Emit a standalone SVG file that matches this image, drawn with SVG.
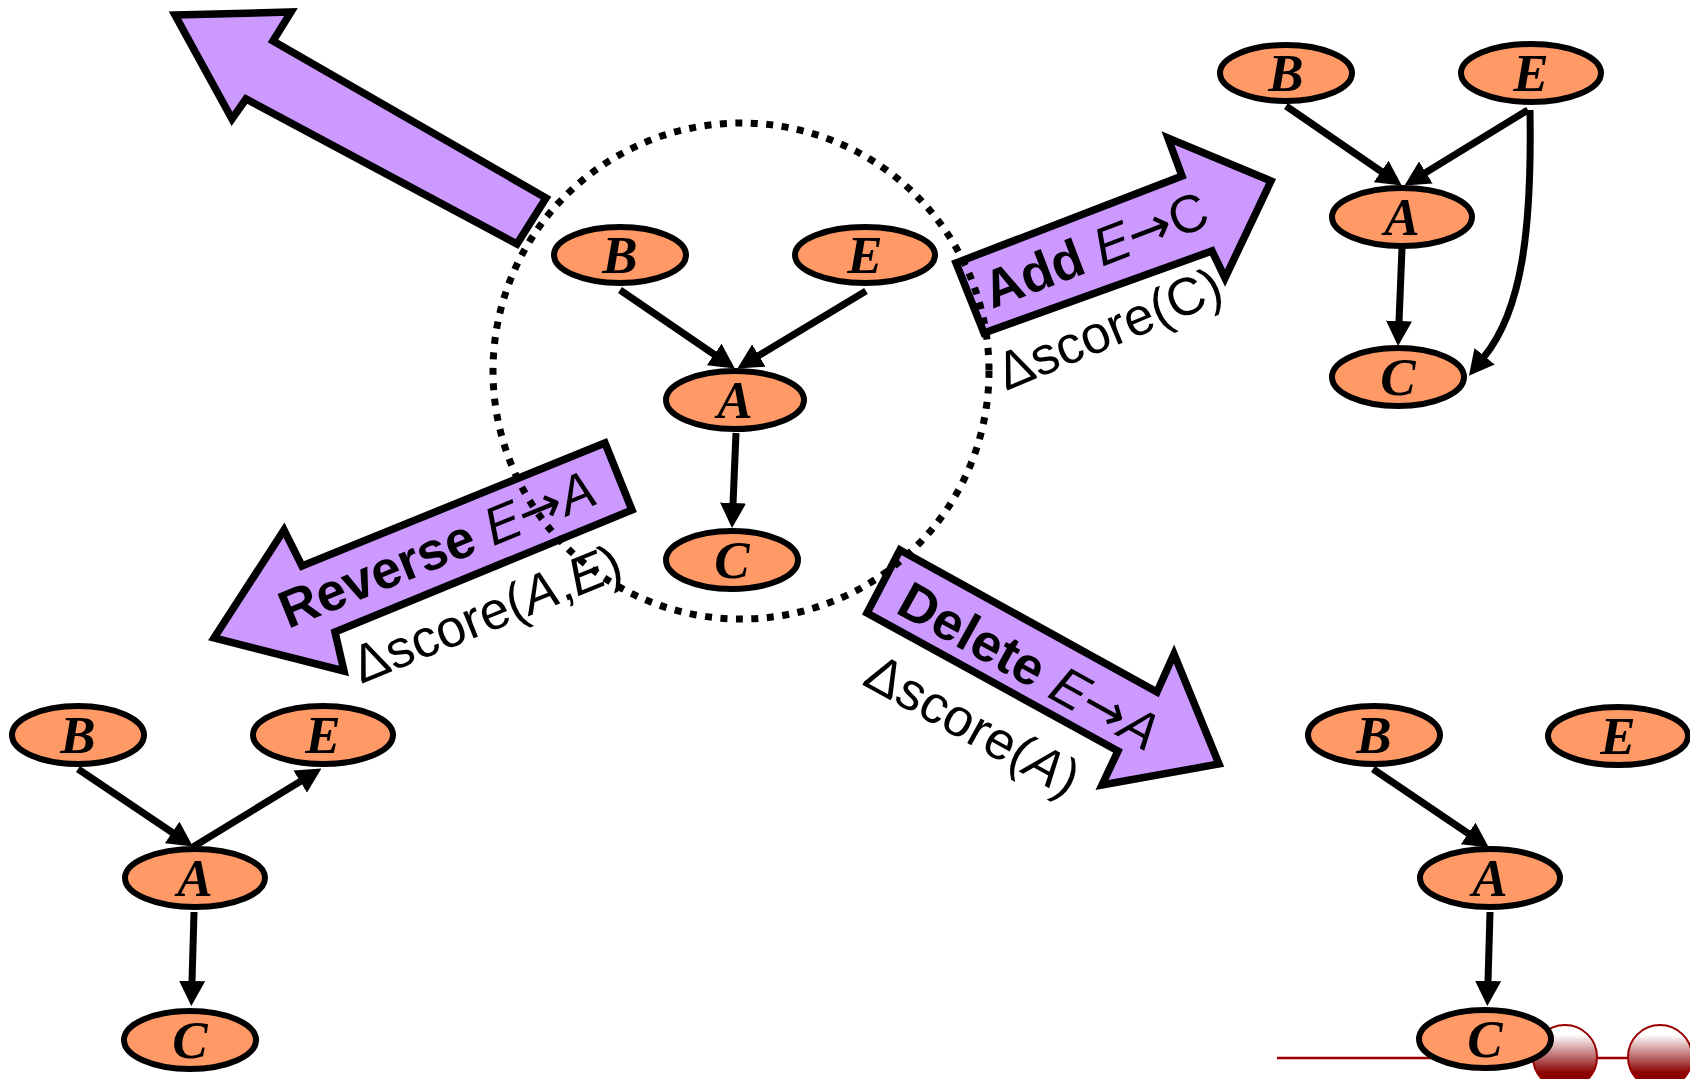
<svg xmlns="http://www.w3.org/2000/svg" width="1690" height="1079" viewBox="0 0 1690 1079">
<style>
.node ellipse{fill:#FF9966;stroke:#000;stroke-width:6}
.node text{font-family:"Liberation Serif",serif;font-weight:bold;font-style:italic;font-size:53px;text-anchor:middle;fill:#000}
.edge{stroke:#000;stroke-width:7;fill:none;marker-end:url(#ah)}
.big{fill:#CC99FF;stroke:#000;stroke-width:7.5;stroke-linejoin:miter}
.lbl{font-family:"Liberation Sans",Arial,sans-serif;font-size:53px;fill:#000}
.b{font-weight:bold}
.i{font-style:italic}
.arr{font-family:"DejaVu Sans",sans-serif;font-weight:normal;font-style:normal}
</style>
<defs>
<marker id="ah" markerUnits="userSpaceOnUse" markerWidth="25" markerHeight="26" viewBox="0 0 25 26" refX="1" refY="13" orient="auto">
<path d="M0,0 L25,13 L0,26 z" fill="#000"/>
</marker>
<linearGradient id="ball" x1="0" y1="0" x2="0" y2="1">
<stop offset="0.15" stop-color="#ffffff"/>
<stop offset="0.75" stop-color="#8B0000"/>
</linearGradient>
</defs>
<rect width="1690" height="1079" fill="#fff"/>

<g id="decor">
<line x1="1277" y1="1058" x2="1690" y2="1058" stroke="#990000" stroke-width="2.5"/>
<circle cx="1565" cy="1057" r="32" fill="url(#ball)" stroke="#990000" stroke-width="2"/>
<circle cx="1660" cy="1057" r="32" fill="url(#ball)" stroke="#990000" stroke-width="2"/>
</g>

<g id="op-arrows">
<polygon id="arrow-topleft" class="big" points="175,15 291,12 273,41 546,198 517,244 246,99 232,119"/>
<polygon id="arrow-add" class="big" points="956,263 1182,176 1168,138 1271,181 1225,278 1212,251 984,333"/>
<polygon id="arrow-reverse" class="big" points="214,638 284,530 302,566 605,443 632,510 335,632 344,671"/>
<polygon id="arrow-delete" class="big" points="900,550 1157,692 1174,654 1219,764 1102,785 1118,751 867,613"/>
</g>

<g id="op-labels">
<text class="lbl" transform="translate(992,309) rotate(-21)"><tspan class="b">Add</tspan> <tspan class="i">E</tspan><tspan class="arr">→</tspan>C</text>
<text class="lbl" transform="translate(1006,391) rotate(-22.5)">Δscore(C)</text>
<text class="lbl" transform="translate(288,629) rotate(-22)"><tspan class="b">Reverse</tspan> <tspan class="i">E</tspan><tspan class="arr">→</tspan><tspan class="i">A</tspan></text>
<text class="lbl" transform="translate(361,684) rotate(-22)">Δscore(<tspan class="i">A</tspan>,<tspan class="i">E</tspan>)</text>
<text class="lbl" transform="translate(894,612) rotate(29)"><tspan class="b">Delete</tspan> <tspan class="i">E</tspan><tspan class="arr">→</tspan><tspan class="i">A</tspan></text>
<text class="lbl" transform="translate(861,684) rotate(29)">Δscore(<tspan class="i">A</tspan>)</text>
</g>

<g id="connectors">
<!-- center graph -->
<line class="edge" x1="620" y1="290" x2="715" y2="355"/>
<line class="edge" x1="866" y1="291" x2="758" y2="356"/>
<line class="edge" x1="736" y1="433" x2="733" y2="504"/>
<!-- top right -->
<line class="edge" x1="1286" y1="106" x2="1382" y2="172"/>
<line class="edge" x1="1528" y1="110" x2="1425" y2="173"/>
<line class="edge" x1="1402" y1="248" x2="1399" y2="322"/>
<path class="edge" d="M1530,110 C1532,230 1522,310 1484,357"/>
<!-- bottom left -->
<line class="edge" x1="78" y1="769" x2="173" y2="833"/>
<line class="edge" x1="193" y1="847" x2="301" y2="781"/>
<line class="edge" x1="194" y1="912" x2="192" y2="982"/>
<!-- bottom right -->
<line class="edge" x1="1373" y1="769" x2="1469" y2="834"/>
<line class="edge" x1="1490" y1="912" x2="1488" y2="982"/>
</g>

<g id="center-B" class="node"><ellipse cx="620" cy="255" rx="66" ry="28"/><text x="620" y="273">B</text></g>
<g id="center-E" class="node"><ellipse cx="865" cy="255" rx="70" ry="28"/><text x="865" y="273">E</text></g>
<g id="center-A" class="node"><ellipse cx="735" cy="400" rx="69" ry="29"/><text x="735" y="418">A</text></g>
<g id="center-C" class="node"><ellipse cx="732" cy="560" rx="66" ry="29"/><text x="732" y="578">C</text></g>

<g id="add-B" class="node"><ellipse cx="1286" cy="73" rx="66" ry="28"/><text x="1286" y="91">B</text></g>
<g id="add-E" class="node"><ellipse cx="1531" cy="73" rx="70" ry="29"/><text x="1531" y="91">E</text></g>
<g id="add-A" class="node"><ellipse cx="1402" cy="217" rx="70" ry="29"/><text x="1402" y="235">A</text></g>
<g id="add-C" class="node"><ellipse cx="1398" cy="377" rx="66" ry="29"/><text x="1398" y="395">C</text></g>

<g id="rev-B" class="node"><ellipse cx="78" cy="735" rx="66" ry="29"/><text x="78" y="753">B</text></g>
<g id="rev-E" class="node"><ellipse cx="323" cy="735" rx="70" ry="29"/><text x="323" y="753">E</text></g>
<g id="rev-A" class="node"><ellipse cx="195" cy="878" rx="70" ry="29"/><text x="195" y="896">A</text></g>
<g id="rev-C" class="node"><ellipse cx="190" cy="1040" rx="66" ry="29"/><text x="190" y="1058">C</text></g>

<g id="del-B" class="node"><ellipse cx="1374" cy="735" rx="66" ry="29"/><text x="1374" y="753">B</text></g>
<g id="del-E" class="node"><ellipse cx="1618" cy="736" rx="70" ry="29"/><text x="1618" y="754">E</text></g>
<g id="del-A" class="node"><ellipse cx="1490" cy="878" rx="70" ry="29"/><text x="1490" y="896">A</text></g>
<g id="del-C" class="node"><ellipse cx="1485" cy="1039" rx="66" ry="29"/><text x="1485" y="1057">C</text></g>

<circle id="neighborhood" cx="741" cy="371" r="248" fill="none" stroke="#000" stroke-width="7" stroke-dasharray="7 8.5"/>
</svg>
